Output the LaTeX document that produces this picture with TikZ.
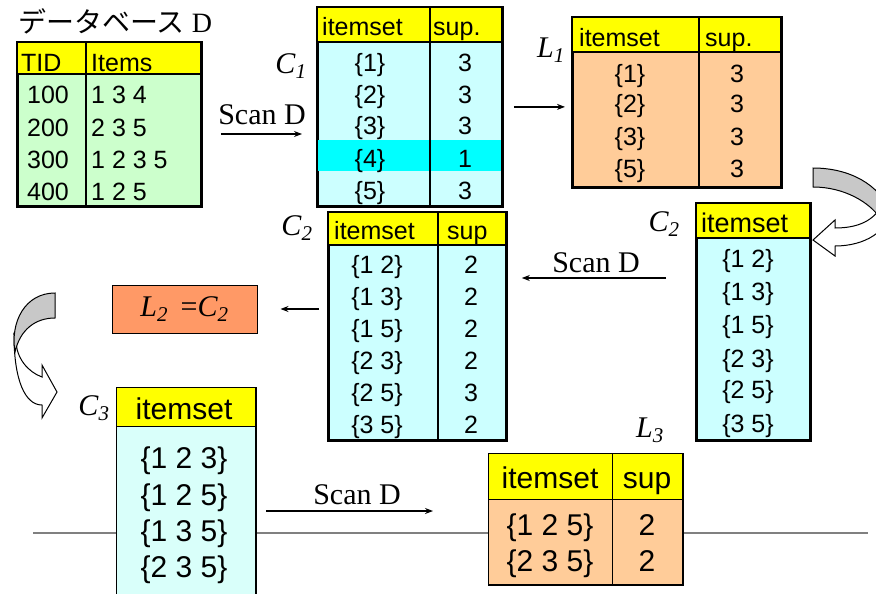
\documentclass[tikz,border=0pt]{standalone}
\usepackage{fontspec}
\setmainfont{Liberation Serif}
\setsansfont{Liberation Sans}
\newfontfamily\jpfont{Noto Sans CJK JP}
\usepackage{xcolor}
\usepackage{tikz}
\usetikzlibrary{positioning,arrows.meta}

\definecolor{hdrYellow}{HTML}{FFFF00}
\definecolor{dbGreen}{HTML}{CCFFCC}
\definecolor{candCyan}{HTML}{CCFFFF}
\definecolor{hitCyan}{HTML}{00FFFF}
\definecolor{largePeach}{HTML}{FFCC99}
\definecolor{lTwoOrange}{HTML}{FF9966}
\definecolor{cThreeCyan}{HTML}{D9FFFA}
\definecolor{arrowGray}{HTML}{C8C8C8}
\definecolor{ruleGray}{HTML}{808080}

\begin{document}
\begin{tikzpicture}[x=1pt, y=-1pt, >={Stealth[length=8pt,width=6pt]},
    tframe/.style={draw, line width=1.8pt, inner sep=0pt, anchor=north west},
    cell/.style={font=\sffamily\fontsize{25}{25}\selectfont, inner sep=0pt, anchor=base},
    bigcell/.style={font=\sffamily\fontsize{30}{30}\selectfont, inner sep=0pt, anchor=base},
    setlbl/.style={font=\fontsize{30}{30}\selectfont\itshape, inner sep=0pt},
    scanlbl/.style={font=\fontsize{30}{30}\selectfont, inner xsep=0pt, anchor=south},
    link/.style={->, line width=1.2pt}]

    \useasboundingbox (0,0) rectangle (876,594);
    \clip (0,0) rectangle (876,594);

    % Rule behind the last row
    \draw[ruleGray, line width=1.5pt] (33,533) -- (868,533);

    % Database D
    \node[anchor=base west, inner sep=0pt] (title) at (18,33) {\fontsize{28}{28}\selectfont{\jpfont データベース} D};
    \node[tframe, fill=dbGreen, minimum width=183, minimum height=163] (D) at (17,42) {};
    \fill[hdrYellow] (17,42) rectangle (200,74);
    \draw[line width=1.8pt] (17,74) -- (200,74) (86,42) -- (86,205);
    \draw[line width=1.8pt] (D.north west) rectangle (D.south east);
    \node[cell, anchor=base west] (dtid) at (21,72) {TID};
    \node[cell, anchor=base west] (ditems) at (91,72) {Items};
    \foreach \t/\s/\y [count=\n] in {100/1 3 4/103, 200/2 3 5/136, 300/1 2 3 5/168, 400/1 2 5/200}{
        \node[cell] (dt\n) at (48,\y) {\t};
        \node[cell, anchor=base west] (di\n) at (91,\y) {\s};
    }

    % C1
    \node[tframe, fill=candCyan, minimum width=184, minimum height=198] (C1) at (317,7) {};
    \fill[hitCyan] (317,140) rectangle (501,171);
    \fill[hdrYellow] (317,7) rectangle (501,42);
    \draw[line width=1.5pt] (317,42) -- (501,42) (430,7) -- (430,205);
    \draw[line width=2pt] (C1.north west) rectangle (C1.south east);
    \node[cell, anchor=base west] (c1h1) at (322,36) {itemset};
    \node[cell, anchor=base west] (c1h2) at (433,36) {sup.};
    \foreach \s/\c/\y [count=\n] in {1/3/72, 2/3/103, 3/3/135, 4/1/167, 5/3/199}{
        \node[cell] (c1i\n) at (370,\y) {\{\s\}};
        \node[cell] (c1s\n) at (465,\y) {\c};
    }
    \node[setlbl] (lc1) at (291,66) {C\textsubscript{1}};

    % L1
    \node[tframe, fill=largePeach, minimum width=208, minimum height=169] (L1) at (572,17) {};
    \fill[hdrYellow] (572,17) rectangle (780,52);
    \draw[line width=1.8pt] (572,52) -- (780,52) (699,17) -- (699,186);
    \draw[line width=1.8pt] (L1.north west) rectangle (L1.south east);
    \node[cell, anchor=base west] (l1h1) at (579,47) {itemset};
    \node[cell, anchor=base west] (l1h2) at (705,47) {sup.};
    \foreach \s/\y [count=\n] in {1/82, 2/113, 3/145, 5/177}{
        \node[cell] (l1i\n) at (630,\y) {\{\s\}};
        \node[cell] (l1s\n) at (737,\y) {3};
    }
    \node[setlbl] (ll1) at (551,50) {L\textsubscript{1}};

    % C2 built from L1
    \node[tframe, fill=candCyan, minimum width=113, minimum height=236] (C2r) at (696,203) {};
    \fill[hdrYellow] (696,203) rectangle (809,238);
    \draw[line width=1.8pt] (696,238) -- (809,238);
    \draw[line width=1.8pt] (C2r.north west) rectangle (C2r.south east);
    \node[cell, font=\sffamily\fontsize{27}{27}\selectfont, anchor=base west] (c2rh) at (701,232) {itemset};
    \foreach \s/\y [count=\n] in {1 2/267, 1 3/300, 1 5/333, 2 3/367, 2 5/398, 3 5/432}{
        \node[cell] (c2ri\n) at (748,\y) {\{\s\}};
    }
    \node[setlbl] (lc2r) at (664,224) {C\textsubscript{2}};

    % C2 with support
    \node[tframe, fill=candCyan, minimum width=177, minimum height=227] (C2m) at (328,212) {};
    \fill[hdrYellow] (328,212) rectangle (505,245);
    \draw[line width=1.8pt] (328,245) -- (505,245) (438,212) -- (438,439);
    \draw[line width=1.8pt] (C2m.north west) rectangle (C2m.south east);
    \node[cell, anchor=base west] (c2mh1) at (334,239) {itemset};
    \node[cell, anchor=base west] (c2mh2) at (447,239) {sup};
    \foreach \s/\c/\y [count=\n] in {1 2/2/273, 1 3/2/305, 1 5/2/337, 2 3/2/369, 2 5/3/401, 3 5/2/433}{
        \node[cell] (c2mi\n) at (377,\y) {\{\s\}};
        \node[cell] (c2ms\n) at (471,\y) {\c};
    }
    \node[setlbl] (lc2m) at (297,228) {C\textsubscript{2}};

    % L2 = C2
    \node[draw, line width=1pt, fill=lTwoOrange, minimum width=145, minimum height=48, inner sep=0pt,
          font=\fontsize{30}{30}\selectfont] (L2) at (184.5,309) {\textit{L\textsubscript{2}}\,\ =\textit{C\textsubscript{2}}};

    % C3
    \node[tframe, line width=1pt, fill=cThreeCyan, minimum width=139, minimum height=230] (C3) at (116,387) {};
    \fill[hdrYellow] (116,387) rectangle (255,426);
    \draw[line width=1pt] (116,426) -- (255,426);
    \draw[line width=1pt] (C3.north west) rectangle (C3.south east);
    \node[bigcell] (c3h) at (184,419) {itemset};
    \foreach \s/\y [count=\n] in {1 2 3/468, 1 2 5/505, 1 3 5/541, 2 3 5/577}{
        \node[bigcell] (c3i\n) at (184,\y) {\{\s\}};
    }
    \node[setlbl] (lc3) at (94,408) {C\textsubscript{3}};

    % L3
    \node[tframe, line width=1pt, fill=largePeach, minimum width=194, minimum height=131] (L3) at (488,453) {};
    \fill[hdrYellow] (488,453) rectangle (682,499);
    \draw[line width=1pt] (488,499) -- (682,499) (612,453) -- (612,584);
    \draw[line width=1pt] (L3.north west) rectangle (L3.south east);
    \node[bigcell] (l3h1) at (550,488) {itemset};
    \node[bigcell] (l3h2) at (647,488) {sup};
    \foreach \s/\y [count=\n] in {1 2 5/535, 2 3 5/571}{
        \node[bigcell] (l3i\n) at (550,\y) {\{\s\}};
        \node[bigcell] (l3s\n) at (647,\y) {2};
    }
    \node[setlbl] (ll3) at (650,430) {L\textsubscript{3}};

    % Scans and arrows
    \node[scanlbl, inner ysep=9pt] (scan1) at (262,134) {Scan D};
    \draw[link, shorten <=19pt, shorten >=15pt] (scan1.south -| D.east) -- (scan1.south -| C1.west);
    \draw[link, shorten <=11pt, shorten >=7pt] (C1.east) -- (C1.east -| L1.west);
    \node[scanlbl, inner ysep=5pt] (scan2) at (596,278) {Scan D};
    \draw[link, shorten <=30pt, shorten >=15pt] (scan2.south -| C2r.west) -- (scan2.south -| C2m.east);
    \draw[link, shorten <=9pt, shorten >=23pt] (L2.east -| C2m.west) -- (L2.east);
    \node[scanlbl, inner ysep=6pt] (scan3) at (357,511) {Scan D};
    \draw[link, shorten <=10pt, shorten >=55pt] (scan3.south -| C3.east) -- (scan3.south -| L3.west);

    % Curved block arrows
    \filldraw[fill=white, line width=1pt] (884,200) .. controls (876,222) and (856,228) .. (835,228)
        -- (835,220) -- (813,240) -- (835,256) -- (835,246) .. controls (864,246) and (890,232) .. (892,205) -- cycle;
    \filldraw[fill=arrowGray, line width=1pt] (813,168) .. controls (850,168) and (880,185) .. (890,212)
        -- (880,218) .. controls (870,203) and (845,187) .. (813,187) -- cycle;
    \filldraw[fill=white, line width=1pt] (14,335) .. controls (14,380) and (25,405) .. (42,405)
        -- (42,418) -- (57,392) -- (42,365) -- (42,377) .. controls (28,372) and (16,358) .. (16,340) -- cycle;
    \filldraw[fill=arrowGray, line width=1pt] (55,293) -- (55,318) .. controls (35,318) and (20,330) .. (15,352)
        .. controls (10,322) and (25,293) .. (55,293) -- cycle;
\end{tikzpicture}
\end{document}
